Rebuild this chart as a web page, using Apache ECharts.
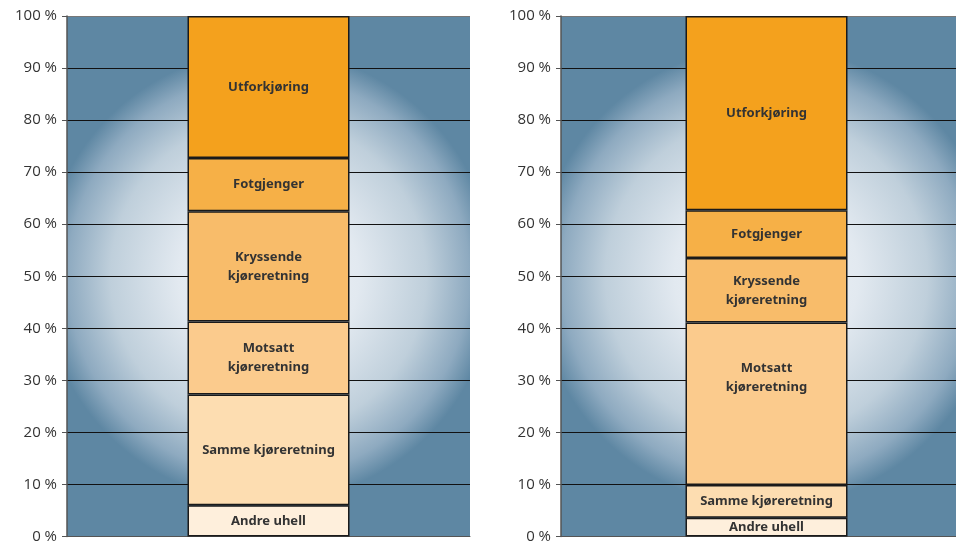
<!DOCTYPE html>
<html>
<head>
<meta charset="utf-8">
<script src="https://cdn.jsdelivr.net/npm/echarts@6/dist/echarts.min.js"></script>
<style>html,body{margin:0;padding:0;background:#fff;overflow:hidden;width:956px;height:544px}#c{width:972px;height:544px}</style>
</head>
<body>
<div id="c"></div>
<script>
// Segment names, bottom to top
var categories = ['Andre uhell', 'Samme kjøreretning', 'Motsatt\nkjøreretning', 'Kryssende\nkjøreretning', 'Fotgjenger', 'Utforkjøring'];
// Shares (%) for each panel, bottom to top
var leftValues = [6.0, 21.3, 14.0, 21.2, 10.2, 27.3];
var rightValues = [3.6, 6.3, 31.2, 12.4, 9.2, 37.3];
var segmentColors = ['#FEEFDC', '#FDDDB1', '#FBCB8D', '#F8BC6A', '#F6B047', '#F4A11D'];
var yTicks = [0, 10, 20, 30, 40, 50, 60, 70, 80, 90, 100];

var chart = echarts.init(document.getElementById('c'));
var bg = {
  type: 'radial', x: 0.5, y: 0.5, r: 0.56,
  colorStops: [
    {offset: 0, color: '#f1f5f8'},
    {offset: 0.4, color: '#e2e9f0'},
    {offset: 0.7, color: '#bfcfdb'},
    {offset: 0.89, color: '#8eaac0'},
    {offset: 1, color: '#5e87a3'}
  ]
};
function yAxis(idx) {
  return {
    type: 'value', gridIndex: idx, min: yTicks[0], max: yTicks[yTicks.length - 1], interval: 10,
    axisLine: {show: true, lineStyle: {color: '#555', width: 1.5}},
    axisTick: {show: true, length: 5, lineStyle: {color: '#555'}},
    splitLine: {show: true, lineStyle: {color: ['#111','#111','#111','#111','#111','#111','#111','#111','#111','#111','#777'], width: 1}},
    axisLabel: {formatter: '{value} %', fontFamily: 'Open Sans', fontSize: 15, color: '#333', margin: 10}
  };
}
function xAxis(idx) {
  return {
    type: 'category', gridIndex: idx, data: [''],
    axisLine: {show: true, lineStyle: {color: '#555'}}, axisTick: {show: false}, axisLabel: {show: false}
  };
}
var series = [];
function addPanel(values, idx, offsets) {
  values.forEach(function (v, i) {
    series.push({
      type: 'bar', xAxisIndex: idx, yAxisIndex: idx, stack: 'p' + idx, name: categories[i],
      barWidth: 162, data: [v],
      itemStyle: {color: segmentColors[i], borderColor: '#1a1a1a', borderWidth: 1.5},
      label: {show: true, position: 'inside', formatter: categories[i], fontFamily: 'Noto Sans', fontWeight: 'bold',
        fontSize: 13, color: '#333', lineHeight: 19, offset: offsets[i] || [0, 0]}
    });
  });
}
addPanel(leftValues, 0, {});
addPanel(rightValues, 1, {2: [0, -26]});

chart.setOption({
  animation: false,
  grid: [
    {left: 67, top: 16, width: 403, height: 523, show: true, backgroundColor: bg, borderWidth: 0},
    {left: 561, top: 16, width: 411, height: 523, show: true, backgroundColor: bg, borderWidth: 0}
  ],
  xAxis: [xAxis(0), xAxis(1)],
  yAxis: [yAxis(0), yAxis(1)],
  series: series
});
</script>
</body>
</html>
